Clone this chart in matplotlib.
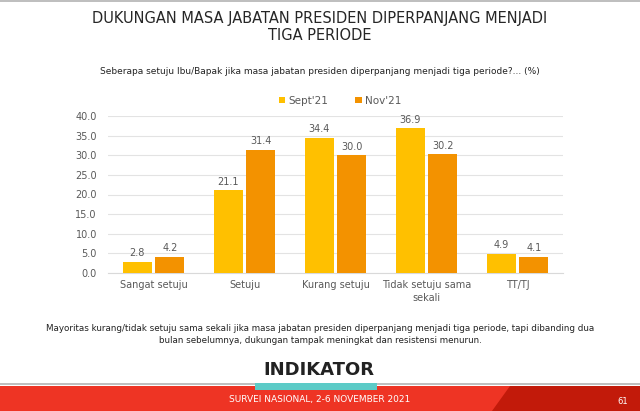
import matplotlib.pyplot as plt
import matplotlib.patches as mpatches
import numpy as np

categories = ["Sangat setuju", "Setuju", "Kurang setuju", "Tidak setuju sama\nsekali", "TT/TJ"]
sept21 = [2.8, 21.1, 34.4, 36.9, 4.9]
nov21 = [4.2, 31.4, 30.0, 30.2, 4.1]
series_names = ["Sept'21", "Nov'21"]
yticks = [0, 5, 10, 15, 20, 25, 30, 35, 40]

c_sept = "#FFC000"
c_nov = "#F39200"
grey = "#595959"

plt.rcParams['font.family'] = ['DejaVu Sans']

fig = plt.figure(figsize=(6.4, 4.11), dpi=100)
fig.patch.set_facecolor("white")

# page decoration
deco = fig.add_axes([0, 0, 1, 1], zorder=-5)
deco.set_xlim(0, 640)
deco.set_ylim(411, 0)
deco.axis("off")
deco.add_patch(mpatches.Rectangle((0, 0), 640, 2, color="#BFBFBF", lw=0))
deco.add_patch(mpatches.Rectangle((0, 383), 640, 1.5, color="#BFBFBF", lw=0))
deco.add_patch(mpatches.Rectangle((0, 386), 640, 25, color="#EE3424", lw=0))
deco.add_patch(mpatches.Polygon([(492, 411), (510, 386), (640, 386), (640, 411)],
                                closed=True, color="#C21A0A", lw=0))
deco.add_patch(mpatches.Rectangle((255, 383), 122, 7, color="#5CCBC7", lw=0))
deco.text(320, 399, "SURVEI NASIONAL, 2-6 NOVEMBER 2021", color="white",
          fontsize=6.5, ha="center", va="center")
deco.text(623, 401, "61", color="white", fontsize=6, ha="center", va="center")
deco.text(319, 370, "INDIKATOR", color="#222222", fontsize=13, fontweight="bold",
          ha="center", va="center")

fig.text(0.5, 1 - 18 / 411, "DUKUNGAN MASA JABATAN PRESIDEN DIPERPANJANG MENJADI",
         ha="center", va="center", fontsize=10.5, color="#262626")
fig.text(0.5, 1 - 35 / 411, "TIGA PERIODE", ha="center", va="center",
         fontsize=10.5, color="#262626")
fig.text(0.5, 1 - 72 / 411,
         "Seberapa setuju Ibu/Bapak jika masa jabatan presiden diperpanjang menjadi tiga periode?... (%)",
         ha="center", va="center", fontsize=6.5, color="#222222")
fig.text(0.5, 1 - 334.5 / 411,
         "Mayoritas kurang/tidak setuju sama sekali jika masa jabatan presiden diperpanjang menjadi tiga periode, tapi dibanding dua\n"
         "bulan sebelumnya, dukungan tampak meningkat dan resistensi menurun.",
         ha="center", va="center", fontsize=6.3, color="#222222", linespacing=1.5)

ax = fig.add_axes([108 / 640, 1 - 273 / 411, (563 - 108) / 640, (273 - 116) / 411])
x = np.arange(len(categories))
w = 0.32
off = 0.18
b1 = ax.bar(x - off, sept21, w, color=c_sept, label=series_names[0], zorder=3)
b2 = ax.bar(x + off, nov21, w, color=c_nov, label=series_names[1], zorder=3)
for bars, vals in ((b1, sept21), (b2, nov21)):
    for r, v in zip(bars, vals):
        ax.text(r.get_x() + r.get_width() / 2, v + 0.9, f"{v:.1f}",
                ha="center", va="bottom", fontsize=7, color=grey)

ax.set_xlim(-0.5, len(categories) - 0.5)
ax.set_ylim(0, 40)
ax.set_yticks(yticks)
ax.set_yticklabels([f"{t:.1f}" for t in yticks], fontsize=7, color=grey)
ax.set_xticks(x)
ax.set_xticklabels(categories, fontsize=7, color=grey, linespacing=1.35)
ax.tick_params(length=0, pad=5)
ax.tick_params(axis="y", pad=8)
ax.grid(axis="y", color="#E3E3E3", lw=0.8, zorder=0)
for s in ("top", "right", "left"):
    ax.spines[s].set_visible(False)
ax.spines["bottom"].set_color("#D9D9D9")

leg = ax.legend(loc="lower center", bbox_to_anchor=(0.51, 1.04), ncol=2, frameon=False,
                fontsize=7.5, handlelength=0.6, handleheight=0.6, columnspacing=2.6,
                handletextpad=0.3, borderaxespad=0)
for t in leg.get_texts():
    t.set_color(grey)

fig.savefig("out.png", dpi=100)
